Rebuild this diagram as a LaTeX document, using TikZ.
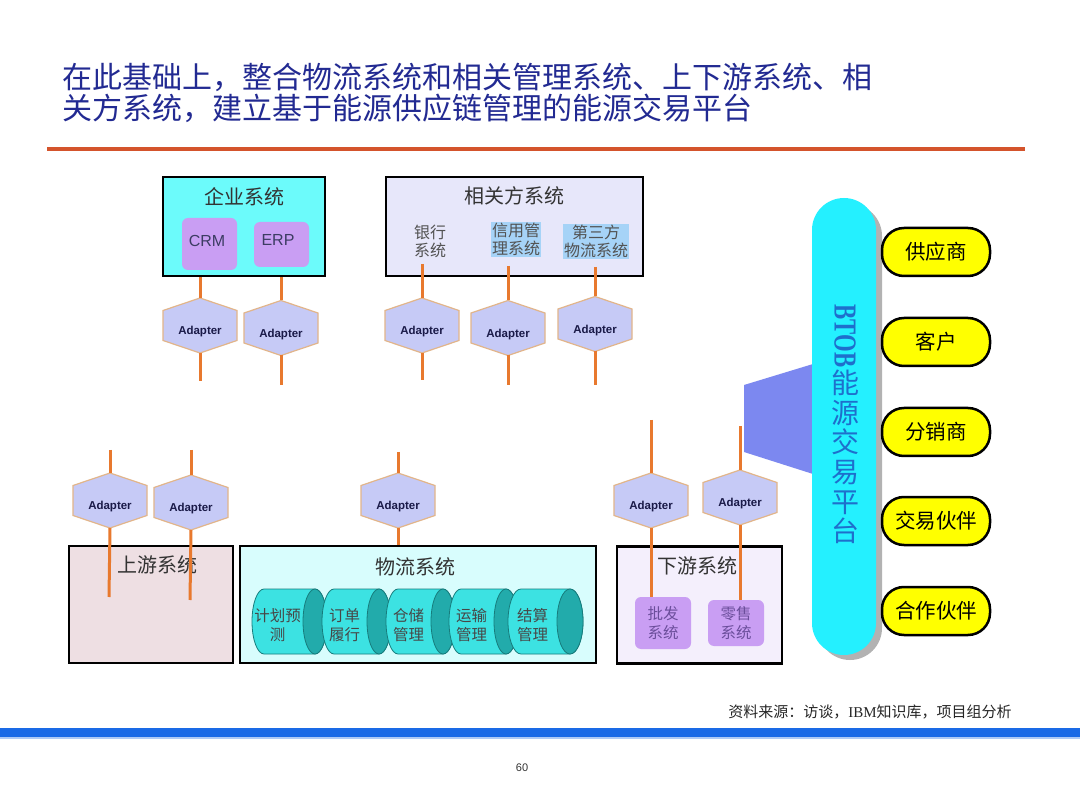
\documentclass[tikz,border=0pt]{standalone}
\usepackage{fontspec}
\setmainfont{Liberation Serif}
\setsansfont{Liberation Sans}
\newfontfamily\cjk{Noto Sans CJK SC}
\usetikzlibrary{shapes.geometric}
\definecolor{titleblue}{HTML}{222A92}
\definecolor{rule}{HTML}{D4542C}
\definecolor{entcyan}{HTML}{6CFBFB}
\definecolor{relbg}{HTML}{E7E7FA}
\definecolor{upbg}{HTML}{EEDFE3}
\definecolor{logbg}{HTML}{D8FDFD}
\definecolor{downbg}{HTML}{F4EFFC}
\definecolor{purplebox}{HTML}{C99EF3}
\definecolor{purpletext}{HTML}{6B4E9B}
\definecolor{hlblue}{HTML}{A6D3F7}
\definecolor{hexfill}{HTML}{C6CAF6}
\definecolor{hexedge}{HTML}{E2B58A}
\definecolor{oline}{HTML}{E8792E}
\definecolor{adnavy}{HTML}{1A1A48}
\definecolor{textgray}{HTML}{333333}
\definecolor{cylbody}{HTML}{3CE2E2}
\definecolor{cylcap}{HTML}{22ABAB}
\definecolor{cyledge}{HTML}{177C7C}
\definecolor{pillcyan}{HTML}{24F0FF}
\definecolor{pilltext}{HTML}{1E6FCC}
\definecolor{trapblue}{HTML}{7C88F0}
\definecolor{barblue}{HTML}{1A6AE6}
\definecolor{yel}{HTML}{FFFF00}
\newcommand\adapternode[3]{%
  \fill[hexfill, draw=hexedge, line width=1.2pt]
    (#2,#3-27.5) -- (#2+37,#3-15) -- (#2+37,#3+15) -- (#2,#3+27.5)
    -- (#2-37,#3+15) -- (#2-37,#3-15) -- cycle;
  \node[adtext] (#1) at (#2,#3+6.5) {Adapter};
  \coordinate (#1-t) at (#2,#3-27.5);
  \coordinate (#1-b) at (#2,#3+27.5);
}
\newcommand\cylnode[5]{% name, xl, xr, rx, text
  \filldraw[fill=cylbody, draw=cyledge, line width=0.8pt]
    (#2+#4,589) -- (#3,589) arc[start angle=-90, end angle=90, x radius=#4, y radius=32.5]
    -- (#2+#4,654) arc[start angle=90, end angle=270, x radius=#4, y radius=32.5] -- cycle;
  \filldraw[fill=cylcap, draw=cyledge, line width=0.8pt] (#3,621.5) ellipse[x radius=#4, y radius=32.5];
  \node[cyltext] (#1) at ({(#2+#3-#4)/2},625) {#5};
}
\begin{document}
\begin{tikzpicture}[x=1pt,y=-1pt,
  titletxt/.style={anchor=west, font=\cjk\fontsize{30}{31}\selectfont, text=titleblue, inner sep=0},
  sysbox/.style={draw=black, line width=2.5pt, inner sep=0},
  boxtitle/.style={font=\cjk\fontsize{20}{22}\selectfont, text=textgray, inner sep=0},
  purplebx/.style={fill=purplebox, rounded corners=6pt, inner sep=0},
  smalltxt/.style={font=\cjk\fontsize{16}{18}\selectfont, align=center, text=black!68, inner sep=0},
  adtext/.style={font=\sffamily\bfseries\fontsize{11.5}{12}\selectfont, text=adnavy, inner sep=0},
  cyltext/.style={font=\cjk\fontsize{15.5}{19}\selectfont, align=center, text=black!72, inner sep=0},
  ol/.style={draw=oline, line width=3pt},
  yelpill/.style={fill=yel, draw=black, line width=2.5pt, rounded corners=22pt,
    minimum width=108pt, minimum height=48pt, inner sep=0,
    font=\cjk\fontsize{20.5}{22}\selectfont, text=black}
]
\useasboundingbox (0,0) rectangle (1080,810);
\fill[white] (0,0) rectangle (1080,810);

% title
\node[titletxt] (t1) at (62,77) {在此基础上，整合物流系统和相关管理系统、上下游系统、相};
\node[titletxt] (t2) at (62,108) {关方系统，建立基于能源供应链管理的能源交易平台};
\draw[draw=rule, line width=4pt] (47,149) -- (1025,149);

% enterprise systems
\node[sysbox, fill=entcyan, minimum width=162pt, minimum height=99pt] (ent) at (244,226.5) {};
\node[boxtitle] (entT) at (244,197) {企业系统};
\node[purplebx, minimum width=55pt, minimum height=52pt] (crm) at (209.5,244) {};
\node[font=\sffamily\fontsize{16}{18}\selectfont, text=adnavy!85, inner sep=0] (crmT) at (207,241) {CRM};
\node[purplebx, minimum width=55pt, minimum height=45pt] (erp) at (281.5,244.5) {};
\node[font=\sffamily\fontsize{16}{18}\selectfont, text=adnavy!85, inner sep=0] (erpT) at (278,240) {ERP};

% related party systems
\node[sysbox, fill=relbg, minimum width=257pt, minimum height=99pt] (rel) at (514.5,226.5) {};
\node[boxtitle] (relT) at (514,196) {相关方系统};
\node[smalltxt] (bank) at (430,241) {银行\\系统};
\node[smalltxt, fill=hlblue, minimum width=50pt, minimum height=35pt] (credit) at (516,239.5) {信用管\\理系统};
\node[smalltxt, fill=hlblue, minimum width=66pt, minimum height=35pt] (tpl) at (596,241.5) {第三方\\物流系统};
\coordinate (r3) at (422,264);
\coordinate (r4) at (508,266);
\coordinate (r5) at (595,267);

% bottom systems
\node[sysbox, fill=upbg, minimum width=164pt, minimum height=117pt] (up) at (151,604.5) {};
\node[boxtitle] (upT) at (157,565) {上游系统};
\node[sysbox, fill=logbg, minimum width=356pt, minimum height=117pt] (log) at (418,604.5) {};
\node[boxtitle] (logT) at (415,567) {物流系统};
\node[sysbox, fill=downbg, minimum width=165pt, minimum height=117pt] (down) at (699.5,605) {};
\node[boxtitle] (downT) at (697,566) {下游系统};
\node[purplebx, minimum width=56pt, minimum height=52pt, font=\cjk\fontsize{15.5}{18.5}\selectfont, align=center, text=purpletext] (pf) at (663,623) {批发\\系统};
\node[purplebx, minimum width=56pt, minimum height=46pt, font=\cjk\fontsize{15.5}{18.5}\selectfont, align=center, text=purpletext] (ls) at (736,623) {零售\\系统};

% cylinders
\cylnode{c1}{252}{315}{12}{计划预\\测}
\cylnode{c2}{322}{379}{12}{订单\\履行}
\cylnode{c3}{386}{443}{12}{仓储\\管理}
\cylnode{c4}{449}{506}{12}{运输\\管理}
\cylnode{c5}{508}{570}{13}{结算\\管理}

% adapters top row
\adapternode{A1}{200}{325.5}
\adapternode{A2}{281}{328}
\adapternode{A3}{422}{325.5}
\adapternode{A4}{508}{328}
\adapternode{A5}{595}{324}
% adapters bottom row
\adapternode{B1}{110}{500.5}
\adapternode{B2}{191}{502.5}
\adapternode{B3}{398}{500.5}
\adapternode{B4}{651}{500.5}
\adapternode{B5}{740}{497.5}

\coordinate (A1-e) at (200,381);
\coordinate (A2-e) at (281,385);
\coordinate (A3-e) at (422,380);
\coordinate (A4-e) at (508,385);
\coordinate (A5-e) at (595,385);
\coordinate (B1-s) at (110,450);
\coordinate (B2-s) at (191,450);
\coordinate (B3-s) at (398,452);
\coordinate (B4-s) at (651,420);
\coordinate (B5-s) at (740,426);
\coordinate (B1-e) at (109,597);
\coordinate (B2-e) at (190,600);

% connectors
\draw[ol] (ent.south -| A1-t) -- (A1-t);
\draw[ol] (ent.south -| A2-t) -- (A2-t);
\draw[ol] (r3) -- (A3-t);
\draw[ol] (r4) -- (A4-t);
\draw[ol] (r5) -- (A5-t);
\draw[ol] (A1-b) -- (A1-e);
\draw[ol] (A2-b) -- (A2-e);
\draw[ol] (A3-b) -- (A3-e);
\draw[ol] (A4-b) -- (A4-e);
\draw[ol] (A5-b) -- (A5-e);
\draw[ol] (B1-s) -- (B1-t);
\draw[ol] (B2-s) -- (B2-t);
\draw[ol] (B3-s) -- (B3-t);
\draw[ol] (B4-s) -- (B4-t);
\draw[ol] (B5-s) -- (B5-t);
\draw[ol] (B1-b) -- (B1-e);
\draw[ol] (B2-b) -- (B2-e);
\draw[ol] (B3-b) -- (B3-b |- log.north);
\draw[ol] (B4-b) -- (B4-b |- pf.north);
\draw[ol] (B5-b) -- (B5-b |- ls.north);

% platform
\fill[trapblue] (744,385) -- (813,364) -- (813,474) -- (744,452) -- cycle;
\fill[black!30, rounded corners=32pt] (818,204) rectangle (882,660);
\node[fill=pillcyan, rounded corners=32pt, minimum width=64pt, minimum height=457pt, inner sep=0] (btob) at (844,426.5) {};
\node[font=\rmfamily\bfseries\fontsize{32}{34}\selectfont, text=pilltext, inner sep=0, rotate=-90, xscale=0.71] (btobL) at (845,336) {BTOB};
\node[font=\cjk\fontsize{28}{29.6}\selectfont, text=pilltext, align=center, inner sep=0] (btobC) at (845,457) {能\\源\\交\\易\\平\\台};

% partners
\node[yelpill] (p1) at (936,252) {供应商};
\node[yelpill] (p2) at (936,342) {客户};
\node[yelpill] (p3) at (936,432) {分销商};
\node[yelpill] (p4) at (936,521) {交易伙伴};
\node[yelpill] (p5) at (936,611) {合作伙伴};

% footer
\node[font=\cjk\fontsize{15}{16}\selectfont, text=black!85, inner sep=0] (src) at (870,712) {资料来源：访谈，{\rmfamily IBM}知识库，项目组分析};
\fill[barblue] (0,728) rectangle (1080,737);
\fill[barblue!35] (0,737) rectangle (1080,739);
\node[font=\sffamily\fontsize{11}{12}\selectfont, text=black!80, inner sep=0] (pg) at (522,768) {60};
\end{tikzpicture}
\end{document}
